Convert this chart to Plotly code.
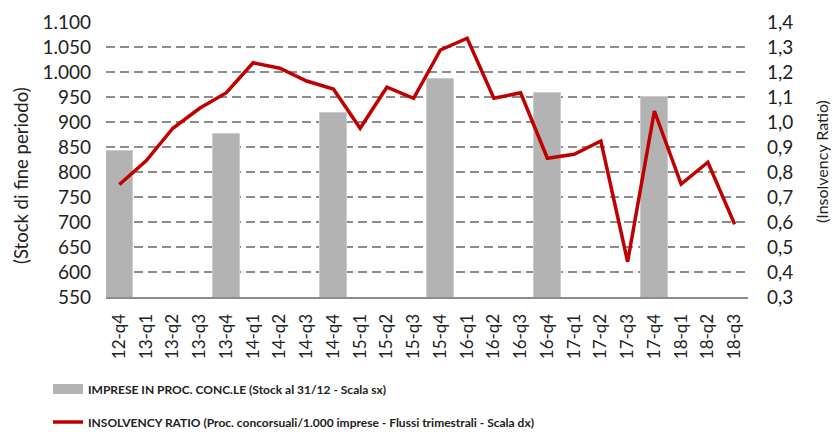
import plotly.graph_objects as go

categories = ["12-q4", "13-q1", "13-q2", "13-q3", "13-q4", "14-q1", "14-q2", "14-q3",
              "14-q4", "15-q1", "15-q2", "15-q3", "15-q4", "16-q1", "16-q2", "16-q3",
              "16-q4", "17-q1", "17-q2", "17-q3", "17-q4", "18-q1", "18-q2", "18-q3"]

stock_imprese = [843, None, None, None, 877, None, None, None, 919, None, None, None,
                 986, None, None, None, 959, None, None, None, 951, None, None, None]

insolvency_ratio = [0.75, 0.845, 0.975, 1.055, 1.117, 1.237, 1.215, 1.164, 1.132, 0.975,
                    1.139, 1.095, 1.288, 1.335, 1.095, 1.117, 0.855, 0.871, 0.924, 0.441,
                    1.044, 0.752, 0.839, 0.591]

left_ticks = [550, 600, 650, 700, 750, 800, 850, 900, 950, 1000, 1050, 1100]
right_ticks = [0.3, 0.4, 0.5, 0.6, 0.7, 0.8, 0.9, 1.0, 1.1, 1.2, 1.3, 1.4]

name_bar = "IMPRESE IN PROC. CONC.LE (Stock al 31/12 - Scala sx)"
name_line = "INSOLVENCY RATIO (Proc. concorsuali/1.000 imprese - Flussi trimestrali - Scala dx)"
title_left = "(Stock di fine periodo)"
title_right = "(Insolvency Ratio)"

BAR_COLOR = "#b3b3b3"
LINE_COLOR = "#c00000"
GRID_COLOR = "#8c8c8c"
TEXT_COLOR = "#222222"
FONT = "Lato, 'Open Sans', sans-serif"
LEG_FONT = "Lato, 'Open Sans', sans-serif"

# page offset (body margin) of 8px
OFF = 8
W, H = 839 - OFF, 432 - OFF
PLOT_L, PLOT_R, PLOT_T, PLOT_B = 106 - OFF, 748 - OFF, 22 - OFF, 297 - OFF
pw = PLOT_R - PLOT_L
ph = PLOT_B - PLOT_T


def px_x(sx):
    return (sx - OFF - PLOT_L) / pw


def px_y(sy):
    return (PLOT_B - (sy - OFF)) / ph


fig = go.Figure()

fig.add_trace(go.Bar(
    x=categories, y=stock_imprese, name=name_bar,
    marker=dict(color=BAR_COLOR, line=dict(color="#cccccc", width=1)),
    showlegend=False, legendgroup="bar", yaxis="y",
))
# legend swatch for the bar series (wide grey band like the original)
fig.add_trace(go.Scatter(
    x=[None], y=[None], mode="lines", name=name_bar, legendgroup="bar",
    line=dict(color=BAR_COLOR, width=12), legend="legend", yaxis="y",
    hoverinfo="skip",
))
fig.add_trace(go.Scatter(
    x=categories, y=insolvency_ratio, name=name_line, mode="lines",
    line=dict(color=LINE_COLOR, width=3.5), yaxis="y2", legend="legend2",
))

leg_common = dict(
    xanchor="left", yanchor="middle", itemwidth=30,
    font=dict(size=12, family=LEG_FONT, color=TEXT_COLOR, weight="bold"),
    bgcolor="rgba(0,0,0,0)",
)

fig.update_layout(
    width=W, height=H,
    margin=dict(l=PLOT_L, r=W - PLOT_R, t=PLOT_T, b=H - PLOT_B, autoexpand=False),
    paper_bgcolor="white", plot_bgcolor="white",
    separators=",.",
    bargap=0,
    font=dict(family=FONT, color=TEXT_COLOR),
    xaxis=dict(
        type="category", tickangle=-90, showgrid=False,
        showline=True, linecolor=GRID_COLOR, linewidth=2,
        ticks="", ticklabelstandoff=8,
        tickfont=dict(size=17, family=FONT, color=TEXT_COLOR),
    ),
    yaxis=dict(
        range=[550, 1100], tickvals=left_ticks, tickformat=",.0f",
        showgrid=True, gridcolor=GRID_COLOR, gridwidth=1.5, griddash="9px,5px",
        zeroline=False, showline=False, ticks="", ticklabelstandoff=14,
        tickfont=dict(size=19, family=FONT, color=TEXT_COLOR),
    ),
    yaxis2=dict(
        range=[0.3, 1.4], tickvals=right_ticks, tickformat=".1f",
        overlaying="y", side="right", showgrid=False, zeroline=False,
        ticks="", ticklabelstandoff=18,
        tickfont=dict(size=19, family=FONT, color=TEXT_COLOR),
    ),
    legend=dict(x=px_x(48), y=px_y(389), **leg_common),
    legend2=dict(x=px_x(48), y=px_y(422), **leg_common),
    annotations=[
        dict(text=title_left, xref="paper", yref="paper", x=px_x(21), y=px_y(176),
             xanchor="center", yanchor="middle", textangle=-90, showarrow=False,
             font=dict(size=18.5, family=FONT, color=TEXT_COLOR)),
        dict(text=title_right, xref="paper", yref="paper", x=px_x(822), y=px_y(161),
             xanchor="center", yanchor="middle", textangle=-90, showarrow=False,
             font=dict(size=16, family=FONT, color=TEXT_COLOR)),
    ],
)

fig.write_html("out.html")
